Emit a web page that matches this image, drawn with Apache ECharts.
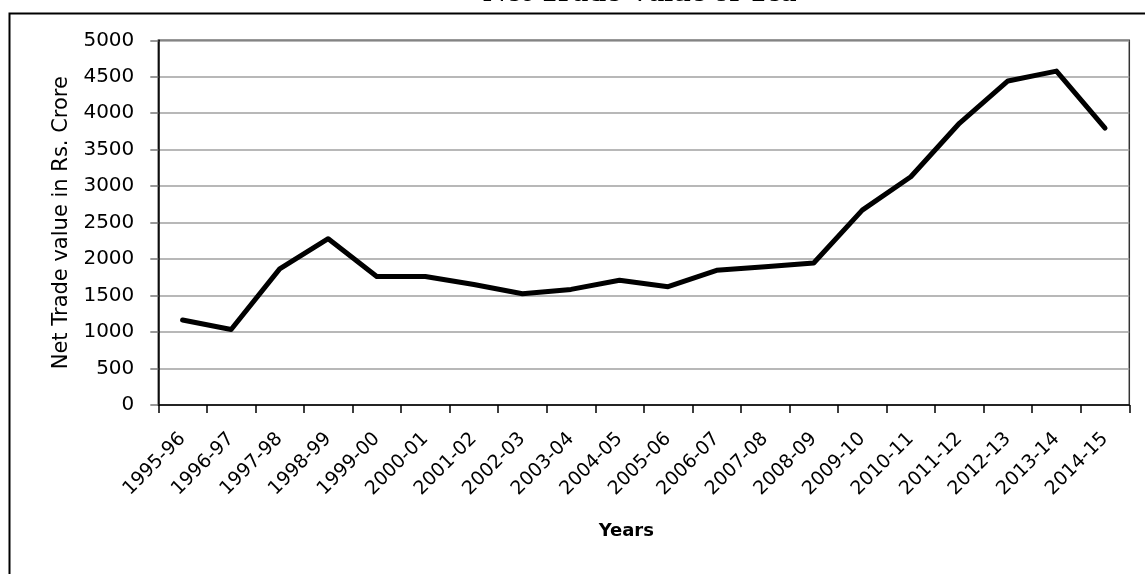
<!DOCTYPE html>
<html>
<head>
<meta charset="utf-8">
<script src="https://cdn.jsdelivr.net/npm/echarts@6/dist/echarts.min.js"></script>
<style>
  html, body { margin: 0; padding: 0; background: #ffffff; }
  #chart { width: 1145px; height: 574px; }
</style>
</head>
<body>
<div id="chart"></div>
<script>
// Financial years on the category axis
const years = [
  '1995-96', '1996-97', '1997-98', '1998-99', '1999-00',
  '2000-01', '2001-02', '2002-03', '2003-04', '2004-05',
  '2005-06', '2006-07', '2007-08', '2008-09', '2009-10',
  '2010-11', '2011-12', '2012-13', '2013-14', '2014-15'
];

// Net trade value of tea, Rs. crore
const netTradeValue = [
  1165, 1035, 1866, 2280, 1762,
  1762, 1652, 1525, 1585, 1710,
  1622, 1847, 1895, 1946, 2672,
  3130, 3862, 4443, 4578, 3796
];

// Value axis range and step
const valueMin = 0;
const valueMax = 5000;
const valueStep = 500;

const chartTitle = 'Net Trade Value of Tea';
const xAxisTitle = 'Years';
const yAxisTitle = 'Net Trade value in Rs. Crore';

const labelFont = 'DejaVu Sans';

const chart = echarts.init(document.getElementById('chart'), null, { renderer: 'canvas' });

chart.setOption({
  backgroundColor: '#ffffff',
  animation: false,
  title: {
    text: chartTitle,
    left: 478,
    top: -28,
    textStyle: {
      fontFamily: 'Liberation Serif',
      fontWeight: 'bold',
      fontSize: 32,
      color: '#000000'
    }
  },
  graphic: [
    {
      // outer chart frame
      type: 'rect',
      silent: true,
      z: -10,
      shape: { x: 9.5, y: 13.5, width: 1160, height: 600 },
      style: { fill: 'none', stroke: '#000000', lineWidth: 2 }
    }
  ],
  grid: {
    left: 158.3,
    right: 15.7,
    top: 40.3,
    bottom: 169,
    show: true,
    borderColor: '#333333',
    borderWidth: 1.5,
    backgroundColor: 'transparent'
  },
  xAxis: {
    type: 'category',
    data: years,
    boundaryGap: true,
    name: xAxisTitle,
    nameLocation: 'middle',
    nameGap: 117,
    nameTextStyle: {
      fontFamily: labelFont,
      fontWeight: 'bold',
      fontSize: 18,
      color: '#000000',
      padding: [0, 35, 0, 0]
    },
    axisLine: { show: true, lineStyle: { color: '#000000', width: 1.5 } },
    axisTick: {
      show: true,
      inside: false,
      length: 8,
      alignWithLabel: false,
      lineStyle: { color: '#000000', width: 1.5 }
    },
    axisLabel: {
      interval: 0,
      rotate: 45,
      margin: 31,
      padding: [12, 0, 0, 0],
      fontFamily: labelFont,
      fontSize: 19,
      color: '#000000'
    },
    splitLine: { show: false }
  },
  yAxis: {
    type: 'value',
    min: valueMin,
    max: valueMax,
    interval: valueStep,
    name: yAxisTitle,
    nameLocation: 'middle',
    nameRotate: 90,
    nameGap: 82,
    nameTextStyle: {
      fontFamily: labelFont,
      fontSize: 21,
      color: '#000000'
    },
    axisLine: { show: true, lineStyle: { color: '#000000', width: 1.5 } },
    axisTick: {
      show: true,
      inside: false,
      length: 8,
      lineStyle: { color: '#777777', width: 1.5 }
    },
    axisLabel: {
      margin: 24,
      fontFamily: labelFont,
      fontSize: 20,
      color: '#000000',
      formatter: (v) => String(v)
    },
    splitLine: { show: true, lineStyle: { color: '#a0a0a0', width: 1.5 } }
  },
  series: [
    {
      type: 'line',
      data: netTradeValue,
      symbol: 'none',
      smooth: false,
      lineStyle: { color: '#000000', width: 5, cap: 'round', join: 'round' },
      z: 5
    }
  ]
});
</script>
</body>
</html>
